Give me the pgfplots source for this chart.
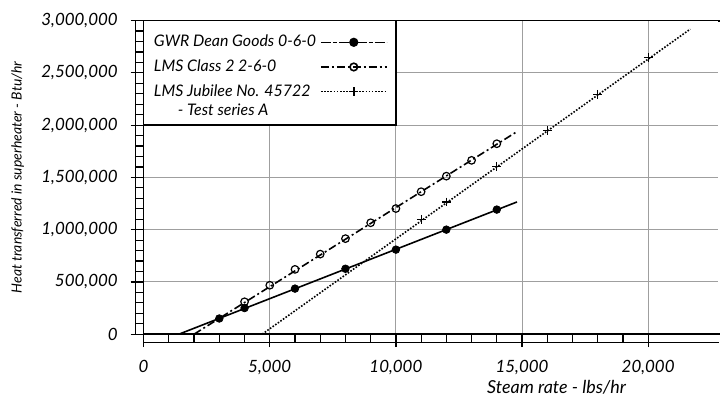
\documentclass[border=0pt]{standalone}
\usepackage{fontspec}
\setmainfont{Lato}
\usepackage{pgfplots}
\pgfplotsset{compat=1.18}
\begin{document}
\begin{tikzpicture}
\begin{axis}[
  name=ax,
  scale only axis,
  clip=false,
  width=288.9pt, height=157.5pt,
  xmin=0, xmax=22800, ymin=0, ymax=3000000,
  xtick={0,5000,10000,15000,20000},
  ytick={0,500000,1000000,1500000,2000000,2500000,3000000},
  minor x tick num=4, minor y tick num=4,
  xtick pos=bottom, ytick pos=left, tick align=outside,
  major tick length=6.5pt, minor tick length=4pt,
  tick style={black, line width=0.6pt},
  grid=major, major grid style={gray!75, line width=0.5pt},
  axis line style={line width=0.8pt},
  scaled ticks=false,
  xticklabel style={/pgf/number format/fixed, /pgf/number format/1000 sep={,}, /pgf/number format/assume math mode=true, font=\itshape\fontsize{8.5}{10}\selectfont, yshift=-3pt},
  yticklabel style={/pgf/number format/fixed, /pgf/number format/1000 sep={,}, /pgf/number format/assume math mode=true, font=\itshape\fontsize{8.5}{10}\selectfont, xshift=-3pt},
  xlabel={Steam rate - lbs/hr},
  ylabel={Heat transferred in superheater - Btu/hr},
  xlabel style={font=\itshape\fontsize{9}{11}\selectfont, at={(axis description cs:0.718,0)}, anchor=center, inner sep=0pt, yshift=-26.5pt},
  ylabel style={font=\itshape\fontsize{7}{9}\selectfont, at={(axis description cs:-0.219,0.5)}, anchor=center, rotate=0},
  legend style={at={(axis cs:0,3000000)}, anchor=north west, draw=none, fill=none,
    font=\itshape\fontsize{8}{10}\selectfont, row sep=1pt, xshift=0pt, yshift=-3pt},
  legend cell align=left,
  legend plot pos=right,
  legend image code/.code={\draw[mark repeat=2,mark phase=2,#1] plot coordinates {(0pt,0pt)(16.5pt,0pt)(33pt,0pt)};},
]
\addlegendimage{black, line width=0.8pt, dash pattern=on 5pt off 1pt on 2pt off 1pt, mark=*, mark size=1.9pt, mark options={solid}}
\addlegendentry{GWR Dean Goods 0-6-0}
\addlegendimage{black, line width=0.8pt, dash pattern=on 4pt off 1.5pt on 1pt off 1.5pt, mark=o, mark size=1.9pt, mark options={solid, fill=white}}
\addlegendentry{LMS Class 2 2-6-0}
\addlegendimage{black, line width=0.8pt, dash pattern=on 0.8pt off 0.8pt, mark=+, mark size=2.2pt, mark options={solid}}
\addlegendentry{LMS Jubilee No. 45722}
\addlegendimage{empty legend}
\addlegendentry{\raisebox{0pt}[3.5pt][\depth]{\hspace{1.5em}- Test series A}}

% legend box and ruler strips
\fill[white] (axis cs:0,2000000) rectangle (axis cs:10000,3000000);
\draw[line width=0.8pt] (axis cs:0,2000000) rectangle (axis cs:10000,3000000);
\draw[line width=0.6pt] ([xshift=-4pt]rel axis cs:0,0) -- ([xshift=-4pt]rel axis cs:0,1);
\draw[line width=0.6pt] ([yshift=-4pt]rel axis cs:0,0) -- ([yshift=-4pt]rel axis cs:1,0);
\draw[white, line width=1.2pt] (rel axis cs:1,0.003) -- (rel axis cs:1,0.997);

% fitted lines
\addplot[black, line width=0.8pt, forget plot] coordinates {(1400,0) (14800,1265000)};
\addplot[black, line width=0.8pt, dash pattern=on 4pt off 1.5pt on 1pt off 1.5pt, forget plot] coordinates {(2000,0) (14800,1938000)};
\addplot[black, line width=0.8pt, dash pattern=on 0.8pt off 0.8pt, forget plot] coordinates {(4700,0) (21670,2919000)};

% data points
\addplot[only marks, mark=o, mark size=1.9pt, black, line width=0.6pt, mark options={fill=white}, forget plot] coordinates {
(4000,310000)(5000,468000)(6000,620000)(7000,766000)(8000,914000)(9000,1066000)(10000,1202000)(11000,1363000)(12000,1512000)(13000,1663000)(14000,1822000)};
\addplot[only marks, mark=*, mark size=1.9pt, black, forget plot] coordinates {
(3000,150000)(4000,250000)(6000,436000)(8000,626000)(10000,809000)(12000,1000000)(14000,1192000)};
\addplot[only marks, mark=+, mark size=2.2pt, black, line width=0.6pt, forget plot] coordinates {
(11000,1100000)(12000,1265000)(14000,1607000)(16000,1948000)(18000,2296000)(20000,2650000)};
\end{axis}
\useasboundingbox ([xshift=-72.15pt,yshift=-30.65pt]ax.south west) rectangle ([xshift=287.85pt,yshift=167.85pt]ax.south west);
\end{tikzpicture}
\end{document}
